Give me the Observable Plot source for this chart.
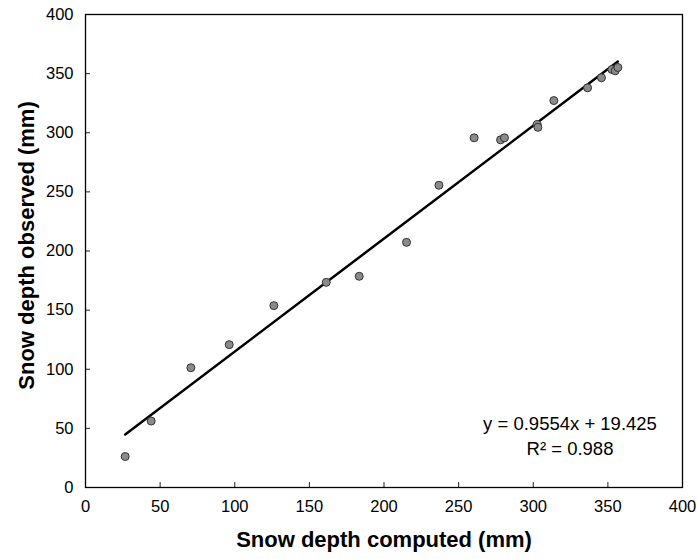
<!DOCTYPE html>
<html>
<head>
<meta charset="utf-8">
<script src="https://cdn.jsdelivr.net/npm/d3@7"></script>
<script src="https://cdn.jsdelivr.net/npm/@observablehq/plot@0.6"></script>
<style>
  html, body { margin: 0; padding: 0; background: white; }
  #chart { width: 697px; height: 559px; }
</style>
</head>
<body>
<div id="chart"></div>
<script>
// Snow depth computed (x) vs observed (y), mm
const computed = [26.6, 44.0, 70.6, 96.3, 126.2, 161.3, 183.4, 215.1, 236.8, 260.4, 278.1, 280.7, 302.6, 303.1, 313.8, 336.4, 345.7, 352.7, 354.9, 356.7];
const observed = [26.2, 56.2, 101.3, 120.8, 153.8, 173.5, 178.6, 207.3, 255.6, 295.7, 294.0, 295.7, 306.9, 304.6, 327.2, 338.0, 346.5, 353.5, 352.4, 355.2];

// Regression given on the chart
const slope = 0.9554;
const intercept = 19.425;
const r2 = 0.988;

const xTicks = [0, 50, 100, 150, 200, 250, 300, 350, 400];
const yTicks = [0, 50, 100, 150, 200, 250, 300, 350, 400];
const innerTicks = [50, 100, 150, 200, 250, 300, 350];

const xTitle = "Snow depth computed (mm)";
const yTitle = "Snow depth observed (mm)";
const eqLine1 = `y = ${slope}x + ${intercept}`;
const eqLine2 = `R\u00B2 = ${r2}`;

const points = computed.map((c, i) => ({x: c, y: observed[i]}));
const fitEnds = [d3.min(computed), d3.max(computed)];
const fit = fitEnds.map(x => ({x, y: slope * x + intercept}));

const font = "'Liberation Sans', Arial, Helvetica, sans-serif";

const chart = Plot.plot({
  width: 697,
  height: 559,
  marginLeft: 85,
  marginRight: 15,
  marginTop: 14,
  marginBottom: 72,
  style: {fontFamily: font, fontSize: "16px", color: "black", background: "white"},
  x: {domain: [0, 400]},
  y: {domain: [0, 400]},
  marks: [
    // tick labels
    Plot.axisX({ticks: xTicks, tickSize: 0, tickPadding: 13, fontSize: 16.5, label: null}),
    Plot.axisY({ticks: yTicks, tickSize: 0, tickPadding: 12, fontSize: 16.5, label: null}),
    // inward tick marks
    Plot.axisX({ticks: innerTicks, tickSize: 5, dy: -5, tickFormat: () => "", label: null, stroke: "#222"}),
    Plot.axisY({ticks: innerTicks, tickSize: 5, dx: 5, tickFormat: () => "", label: null, stroke: "#222"}),
    Plot.frame({stroke: "black", strokeWidth: 1.3}),
    Plot.line(fit, {x: "x", y: "y", stroke: "black", strokeWidth: 2.5}),
    Plot.dot(points, {x: "x", y: "y", r: 4, fill: "#8a8a8a", stroke: "#333", strokeWidth: 1}),
    // axis titles
    Plot.text([xTitle], {frameAnchor: "bottom", textAnchor: "middle", dy: 59, text: d => d, fontSize: 22, fontWeight: "bold"}),
    Plot.text([yTitle], {frameAnchor: "left", textAnchor: "middle", dx: -59, dy: -5.5, rotate: -90, text: d => d, fontSize: 22, fontWeight: "bold"}),
    // equation annotation
    Plot.text([eqLine1], {frameAnchor: "bottom", textAnchor: "middle", dx: 186, dy: -57.8, text: d => d, fontSize: 18.5}),
    Plot.text([eqLine2], {frameAnchor: "bottom", textAnchor: "middle", dx: 186, dy: -32.1, text: d => d, fontSize: 18.5})
  ]
});

document.getElementById("chart").appendChild(chart);
</script>
</body>
</html>
